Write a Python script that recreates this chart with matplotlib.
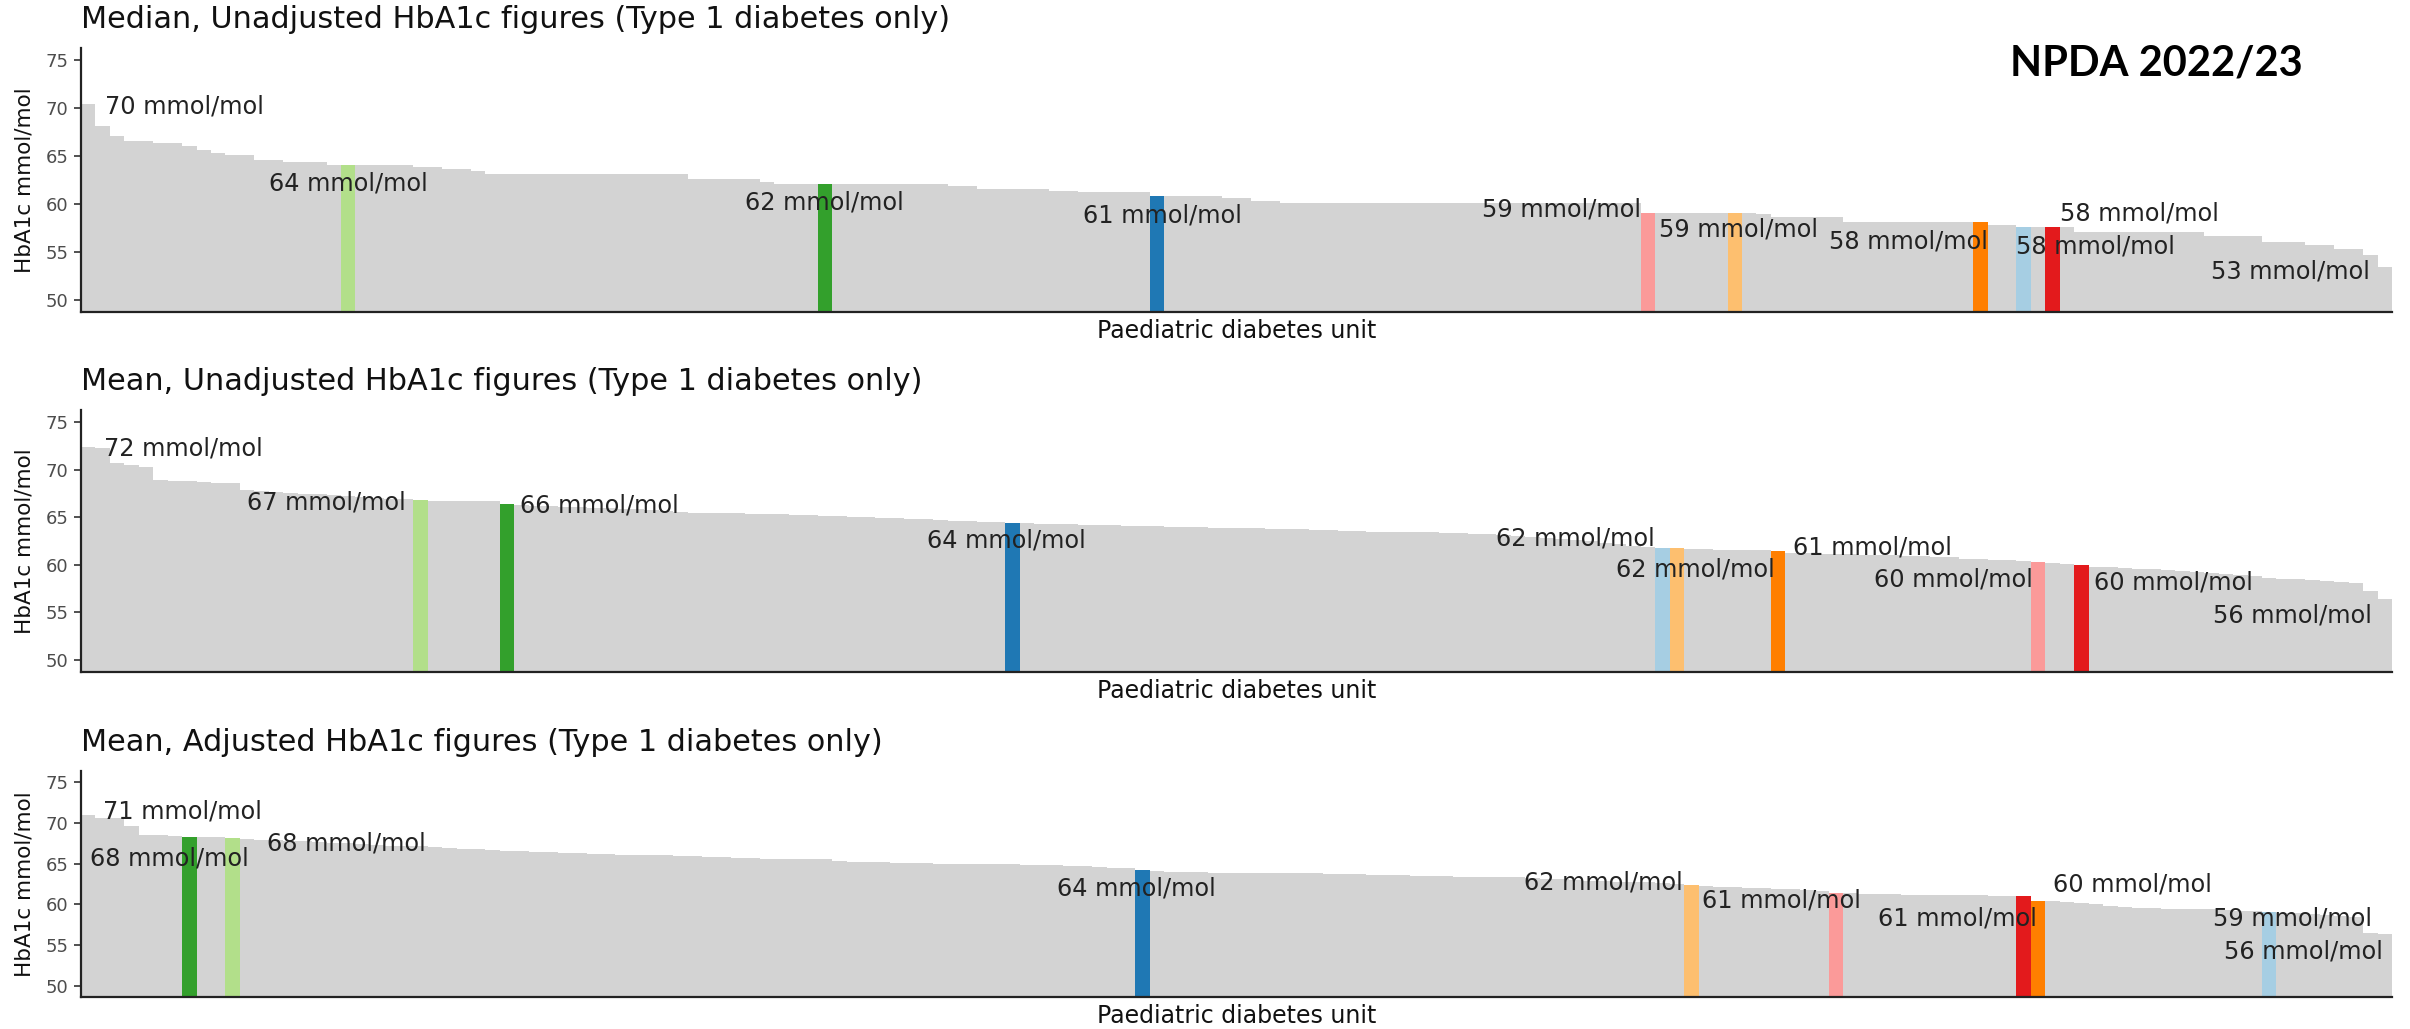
import matplotlib
matplotlib.use("Agg")
import matplotlib.pyplot as plt

# ---- data: HbA1c (mmol/mol) per paediatric diabetes unit, sorted high -> low ----
median_unadj = [
    70.4, 68.1, 67.1, 66.6, 66.6, 66.4, 66.4, 66.1, 65.6, 65.3,
    65.1, 65.1, 64.6, 64.6, 64.4, 64.4, 64.4, 64.1, 64.1, 64.1,
    64.1, 64.1, 64.1, 63.9, 63.9, 63.6, 63.6, 63.4, 63.1, 63.1,
    63.1, 63.1, 63.1, 63.1, 63.1, 63.1, 63.1, 63.1, 63.1, 63.1,
    63.1, 63.1, 62.6, 62.6, 62.6, 62.6, 62.6, 62.3, 62.1, 62.1,
    62.1, 62.1, 62.1, 62.1, 62.1, 62.1, 62.1, 62.1, 62.1, 62.1,
    61.9, 61.9, 61.6, 61.6, 61.6, 61.6, 61.6, 61.4, 61.4, 61.2,
    61.2, 61.2, 61.2, 61.2, 60.8, 60.8, 60.8, 60.8, 60.8, 60.6,
    60.6, 60.3, 60.3, 60.1, 60.1, 60.1, 60.1, 60.1, 60.1, 60.1,
    60.1, 60.1, 60.1, 60.1, 60.1, 60.1, 60.1, 60.1, 60.1, 60.1,
    60.1, 60.1, 60.1, 60.1, 60.1, 60.1, 60.1, 60.1, 59.1, 59.1,
    59.1, 59.1, 59.1, 59.1, 59.1, 59.1, 58.9, 58.6, 58.6, 58.6,
    58.6, 58.6, 58.1, 58.1, 58.1, 58.1, 58.1, 58.1, 58.1, 58.1,
    58.1, 58.1, 57.8, 57.8, 57.6, 57.6, 57.6, 57.6, 57.1, 57.1,
    57.1, 57.1, 57.1, 57.1, 57.1, 57.1, 57.1, 56.6, 56.6, 56.6,
    56.6, 56.0, 56.0, 56.0, 55.7, 55.7, 55.3, 55.3, 54.7, 53.4,
]
mean_unadj = [
    72.4, 72.3, 70.7, 70.5, 70.3, 68.9, 68.8, 68.8, 68.7, 68.6,
    68.6, 67.9, 67.8, 67.7, 67.6, 67.5, 67.4, 67.3, 67.2, 67.1,
    67.0, 66.9, 66.9, 66.8, 66.7, 66.7, 66.7, 66.7, 66.7, 66.4,
    66.3, 66.2, 66.2, 66.1, 66.1, 66.0, 66.0, 65.9, 65.9, 65.8,
    65.7, 65.6, 65.5, 65.5, 65.4, 65.4, 65.3, 65.3, 65.3, 65.2,
    65.2, 65.1, 65.1, 65.0, 65.0, 64.9, 64.9, 64.8, 64.8, 64.7,
    64.6, 64.6, 64.5, 64.5, 64.4, 64.4, 64.3, 64.3, 64.3, 64.2,
    64.2, 64.2, 64.1, 64.1, 64.1, 64.0, 64.0, 64.0, 63.9, 63.9,
    63.9, 63.9, 63.8, 63.8, 63.8, 63.7, 63.7, 63.6, 63.6, 63.5,
    63.5, 63.5, 63.4, 63.4, 63.3, 63.3, 63.2, 63.2, 63.1, 63.0,
    62.9, 62.8, 62.7, 62.6, 62.5, 62.3, 62.2, 62.0, 61.9, 61.8,
    61.8, 61.7, 61.7, 61.6, 61.6, 61.6, 61.5, 61.4, 61.2, 61.2,
    61.1, 61.1, 61.1, 61.0, 61.0, 61.0, 60.9, 60.9, 60.8, 60.8,
    60.6, 60.6, 60.5, 60.5, 60.4, 60.3, 60.2, 60.1, 60.0, 59.8,
    59.8, 59.7, 59.6, 59.5, 59.4, 59.3, 59.2, 59.1, 59.0, 58.9,
    58.8, 58.6, 58.5, 58.5, 58.4, 58.3, 58.2, 58.1, 57.2, 56.4,
]
mean_adj = [
    70.9, 70.6, 70.5, 69.6, 68.5, 68.5, 68.4, 68.3, 68.2, 68.2,
    68.1, 68.0, 67.9, 67.9, 67.8, 67.7, 67.6, 67.5, 67.5, 67.4,
    67.3, 67.2, 67.2, 67.1, 67.0, 66.9, 66.8, 66.8, 66.7, 66.5,
    66.5, 66.4, 66.4, 66.3, 66.3, 66.2, 66.2, 66.1, 66.1, 66.0,
    66.0, 65.9, 65.9, 65.8, 65.8, 65.7, 65.7, 65.6, 65.6, 65.6,
    65.5, 65.5, 65.3, 65.2, 65.2, 65.2, 65.1, 65.1, 65.1, 65.0,
    65.0, 65.0, 64.9, 64.9, 64.9, 64.8, 64.8, 64.8, 64.7, 64.7,
    64.6, 64.5, 64.4, 64.2, 64.1, 64.0, 64.0, 64.0, 63.9, 63.9,
    63.9, 63.9, 63.9, 63.8, 63.8, 63.8, 63.7, 63.7, 63.7, 63.6,
    63.6, 63.6, 63.5, 63.5, 63.5, 63.4, 63.4, 63.4, 63.3, 63.3,
    63.2, 63.1, 63.1, 63.0, 62.9, 62.9, 62.8, 62.7, 62.7, 62.6,
    62.5, 62.4, 62.2, 62.1, 62.1, 62.0, 62.0, 61.9, 61.9, 61.8,
    61.6, 61.4, 61.4, 61.3, 61.3, 61.3, 61.2, 61.2, 61.2, 61.1,
    61.1, 61.1, 61.0, 61.0, 61.0, 60.4, 60.4, 60.3, 60.2, 60.0,
    59.8, 59.7, 59.6, 59.6, 59.5, 59.5, 59.4, 59.4, 59.3, 59.2,
    59.2, 59.1, 59.0, 58.9, 58.8, 58.7, 58.6, 58.5, 56.5, 56.4,
]

# highlighted units -> their rank position in each panel
units = ["lblue", "blue", "lgreen", "green", "pink", "red", "lorange", "orange"]
median_pos = {"lgreen": 18, "green": 51, "blue": 74, "pink": 108,
              "lorange": 114, "orange": 131, "lblue": 134, "red": 136}
mean_pos = {"lgreen": 23, "green": 29, "blue": 64, "lblue": 109,
            "lorange": 110, "orange": 117, "pink": 135, "red": 138}
adj_pos = {"green": 7, "lgreen": 10, "blue": 73, "lorange": 111,
           "pink": 121, "red": 134, "orange": 135, "lblue": 151}

titles = ["Median, Unadjusted HbA1c figures (Type 1 diabetes only)",
          "Mean, Unadjusted HbA1c figures (Type 1 diabetes only)",
          "Mean, Adjusted HbA1c figures (Type 1 diabetes only)"]
y_ticks = [50, 55, 60, 65, 70, 75]

# ---- style ----
palette = {"lblue": "#A6CEE3", "blue": "#1F78B4", "lgreen": "#B2DF8A",
           "green": "#33A02C", "pink": "#FB9A99", "red": "#E31A1C",
           "lorange": "#FDBF6F", "orange": "#FF7F00"}
GREY = "#D3D3D3"

# label placement: key -> (dx in bars, dy in mmol/mol, ha)
median_lab = {"first": (1.16, -0.2, "left"), "lgreen": (0, -2.0, "center"),
              "green": (0, -2.0, "center"), "blue": (0.4, -2.0, "center"),
              "pink": (-0.5, 0.3, "right"), "lorange": (0.25, -1.8, "center"),
              "orange": (0.5, -2.0, "right"), "lblue": (-0.5, -2.0, "left"),
              "red": (0.5, 1.4, "left"), "last": (-1.0, -0.5, "right")}
mean_lab = {"first": (1.1, -0.2, "left"), "lgreen": (-1.0, -0.2, "right"),
            "green": (0.9, -0.2, "left"), "blue": (-0.4, -1.8, "center"),
            "lblue": (-0.55, 1.0, "right"), "lorange": (1.3, -2.3, "center"),
            "orange": (1.0, 0.4, "left"), "pink": (-0.35, -1.9, "right"),
            "red": (0.9, -1.9, "left"), "last": (-0.9, -1.8, "right")}
adj_lab = {"first": (1.0, 0.5, "left"), "green": (-1.4, -2.7, "center"),
           "lgreen": (2.4, -0.7, "left"), "blue": (-0.4, -2.3, "center"),
           "lorange": (-0.6, 0.3, "right"), "pink": (-9.3, -0.9, "left"),
           "red": (0.9, -2.7, "right"), "orange": (1.0, 2.0, "left"),
           "lblue": (1.6, -0.8, "center"), "last": (-0.1, -2.2, "right")}

W, H = 2410, 1029
# panel boxes in pixels: (left, top, right, bottom)
boxes = [(81, 48, 2392, 312), (81, 410, 2392, 672), (81, 771, 2392, 997)]

fig = plt.figure(figsize=(W / 100, H / 100), dpi=100)


def draw_panel(box, vals, pos, labels, title):
    l, t, r, b = box
    ax = fig.add_axes([l / W, 1 - b / H, (r - l) / W, (b - t) / H])
    n = len(vals)
    colors = [GREY] * n
    for u, i in pos.items():
        colors[i] = palette[u]
    ax.bar(range(n), vals, width=1.0, color=colors, linewidth=0)
    ax.set_xlim(-0.5, n - 0.5)
    ax.set_ylim(48.7, 76.3)
    ax.set_yticks(y_ticks)
    ax.set_xticks([])
    ax.tick_params(axis="y", labelsize=13, labelcolor="#4D4D4D",
                   length=5, width=1.2, color="#333333", pad=4)
    for s in ("top", "right"):
        ax.spines[s].set_visible(False)
    for s in ("left", "bottom"):
        ax.spines[s].set_linewidth(1.6)
        ax.spines[s].set_color("#222222")

    anchors = dict(pos)
    anchors["first"] = 0
    anchors["last"] = n - 1
    for key, (dx, dy, ha) in labels.items():
        i = anchors[key]
        v = vals[i]
        ax.text(i + dx, v + dy, f"{round(v)} mmol/mol", ha=ha, va="center",
                fontsize=17.3, color="#222222")

    ax.annotate(title, xy=(0, 1), xycoords="axes fraction",
                xytext=(0, 20.5), textcoords="offset points",
                ha="left", va="center", fontsize=21.8, color="#111111")
    ax.annotate("Paediatric diabetes unit", xy=(0.5, 0), xycoords="axes fraction",
                xytext=(0, -13.5), textcoords="offset points",
                ha="center", va="center", fontsize=17, color="#111111")
    ax.annotate("HbA1c mmol/mol", xy=(0, 0.5), xycoords="axes fraction",
                xytext=(-41, 0), textcoords="offset points", rotation=90,
                ha="center", va="center", fontsize=15.5, color="#111111")
    return ax


draw_panel(boxes[0], median_unadj, median_pos, median_lab, titles[0])
draw_panel(boxes[1], mean_unadj, mean_pos, mean_lab, titles[1])
draw_panel(boxes[2], mean_adj, adj_pos, adj_lab, titles[2])

fig.text(2156 / W, 1 - 64 / H, "NPDA 2022/23", ha="center", va="center",
         fontsize=30, fontweight="bold", family=["Lato", "DejaVu Sans"])

fig.savefig("out.png", dpi=100)
